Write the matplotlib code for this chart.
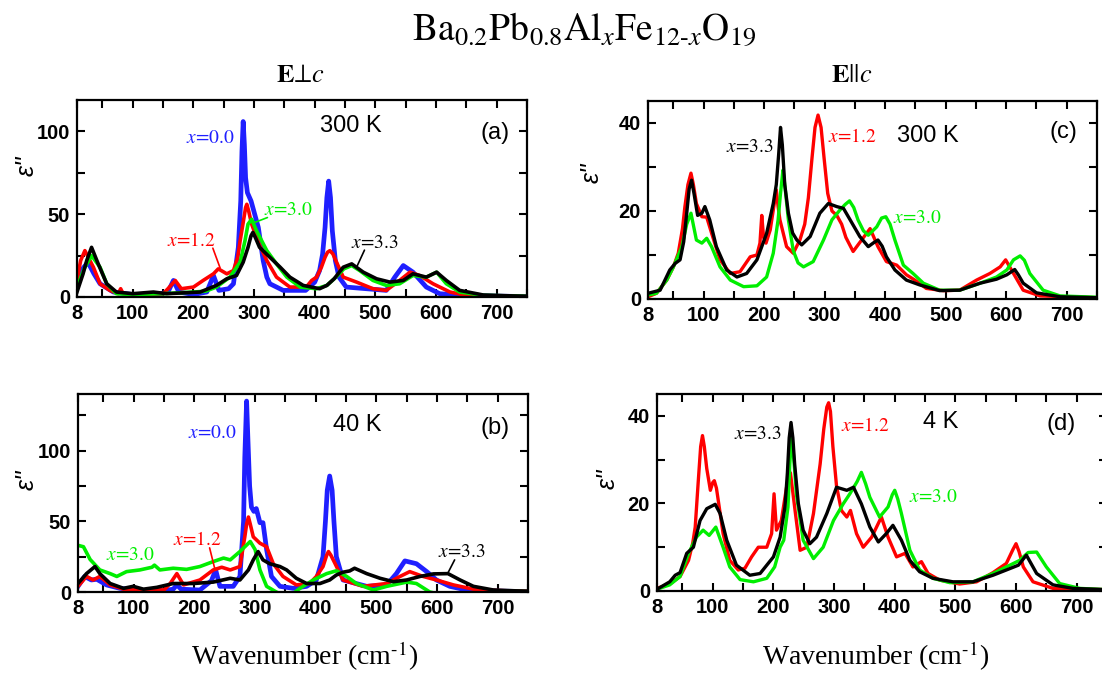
import matplotlib
matplotlib.use("Agg")
import matplotlib.pyplot as plt
import numpy as np
from matplotlib.ticker import MultipleLocator, FixedLocator

# eps'' spectra, (wavenumber cm^-1, eps'')
# (a) E perp c, 300 K
a_x00 = [(8, 6), (15, 16), (26, 21), (36, 14), (46, 8), (68, 3), (100, 1.5), (140, 1.5), (158, 3), (167, 10),
         (176, 3), (200, 1.5), (222, 3), (233, 13), (242, 4), (258, 5), (266, 8), (274, 30), (278, 58), (280, 88),
         (282, 106), (284, 92), (286, 72), (289, 63), (295, 58), (301, 50), (307, 42), (315, 22), (321, 12), (326, 8),
         (348, 4), (385, 4), (400, 9), (408, 16), (413, 26), (417, 42), (420, 60), (423, 70), (426, 60), (429, 40),
         (434, 22), (440, 12), (452, 6), (485, 5), (518, 4), (532, 12), (546, 19), (562, 15), (584, 6), (606, 2),
         (640, 1), (700, 0.5), (750, 0.3)]
a_x12 = [(8, 10), (14, 22), (21, 28), (35, 18), (46, 8), (62, 4), (76, 2), (80, 5), (84, 2), (110, 1.5), (150, 2),
         (158, 5), (170, 10), (180, 5), (200, 6), (216, 10), (233, 14), (241, 17), (255, 14), (266, 16), (273, 24),
         (277, 34), (282, 45), (286, 54), (288, 56), (291, 52), (296, 44), (307, 33), (321, 22), (337, 12), (359, 6),
         (386, 6), (395, 10), (403, 12), (411, 18), (417, 24), (421, 27), (425, 28), (430, 26), (436, 21), (447, 12),
         (469, 9), (496, 5), (518, 4), (540, 10), (557, 15), (573, 13), (595, 8), (623, 3), (650, 1), (700, 0.5),
         (750, 0.3)]
a_x30 = [(8, 6), (21, 18), (32, 25), (46, 18), (57, 8), (73, 2), (100, 1.5), (150, 2), (200, 3), (220, 3.5), (238, 6),
         (260, 12), (277, 21), (285, 34), (290, 44), (296, 47), (304, 40), (321, 28), (337, 20), (354, 12), (376, 6),
         (403, 5), (420, 7), (435, 12), (448, 17), (461, 19), (474, 16), (496, 10), (518, 7), (540, 8), (562, 13),
         (584, 12), (601, 15), (617, 8), (639, 3), (678, 1), (750, 0.4)]
a_x33 = [(8, 3), (18, 14), (24, 22), (32, 30), (43, 20), (57, 8), (73, 3), (100, 2), (134, 3), (156, 2), (211, 3),
         (238, 7), (255, 11), (271, 13), (282, 21), (290, 30), (295, 37), (298, 39), (302, 36), (309, 30), (326, 24),
         (343, 18), (359, 12), (381, 7), (408, 5), (420, 7), (432, 11), (447, 18), (461, 20), (480, 15), (502, 11),
         (524, 9), (546, 10), (562, 14), (584, 12), (601, 15), (617, 10), (639, 4), (678, 1.2), (750, 0.4)]

# (b) E perp c, 40 K
b_x00 = [(8, 4), (19, 11), (30, 8.5), (39, 9), (55, 5), (77, 2.6), (110, 1.2), (150, 1), (165, 2), (171, 5), (178, 2),
         (209, 1.4), (228, 8), (235, 15.6), (242, 4), (264, 4), (275, 11), (281, 50), (283, 95), (286, 135),
         (288, 110), (291, 75), (294, 60), (298, 57), (302, 59), (308, 49), (313, 49), (319, 30), (327, 11), (341, 4),
         (363, 2.6), (385, 4), (401, 8.5), (412, 25), (416, 50), (419, 72), (423, 82), (427, 72), (430, 50), (434, 25),
         (445, 8.5), (484, 4), (517, 5), (533, 13), (547, 22), (566, 20), (583, 14.4), (599, 8.5), (621, 4),
         (649, 1.4), (700, 0.6), (750, 0.3)]
b_x12 = [(8, 4), (22, 11), (33, 8.5), (44, 11), (61, 5), (83, 2), (120, 1.5), (150, 1.5), (160, 6), (171, 13),
         (182, 5), (209, 8.5), (231, 15.6), (245, 17.5), (259, 15.6), (275, 18), (283, 39), (286, 48), (289, 53),
         (292, 48), (297, 39), (308, 34.5), (319, 32), (330, 20), (346, 11), (368, 5), (390, 6), (401, 11), (412, 18),
         (418, 26), (421, 28.6), (425, 26), (432, 20), (445, 8.5), (478, 4), (517, 6), (539, 11), (555, 14.4),
         (577, 11), (599, 8.5), (627, 5), (660, 2), (700, 1), (750, 0.5)]
b_x30 = [(8, 33), (17, 32), (28, 23), (44, 15.6), (61, 13), (72, 11), (88, 14.4), (110, 15.6), (130, 17.5), (134, 19),
         (143, 15.6), (165, 16.8), (187, 16), (209, 18), (231, 21.5), (248, 24), (259, 22.7), (275, 28.6), (292, 35.7),
         (300, 30), (308, 15.6), (319, 4), (335, 0), (350, -3), (363, -1), (374, 2.6), (396, 8.5), (418, 13), (434, 15),
         (451, 11), (467, 6), (495, 1.4), (517, 4), (550, 7), (566, 6), (588, 0), (620, -3), (680, -1), (720, 0.5),
         (750, 0.3)]
b_x33 = [(8, 6), (22, 13), (36, 18), (44, 13), (61, 6), (83, 2.6), (99, 4), (116, 2), (138, 3.3), (165, 6), (198, 6),
         (231, 7), (259, 9.7), (275, 8.5), (289, 15.6), (297, 22.7), (305, 28.6), (313, 22.7), (324, 20), (341, 18),
         (352, 15.6), (368, 9.7), (385, 6), (407, 6), (423, 8.5), (434, 12), (445, 14), (456, 14.9), (464, 16.8),
         (484, 13), (506, 9.7), (528, 7.3), (550, 8.5), (572, 11), (594, 12.8), (618, 13), (638, 8.5), (660, 4),
         (693, 1.4), (750, 0.5)]

# (c) E || c, 300 K
c_x12 = [(8, 0.5), (22, 1.3), (39, 4.3), (50, 7.3), (58, 10.4), (65, 16), (69, 21), (74, 26), (79, 28.6), (83, 26),
         (88, 21.7), (97, 18.7), (105, 18.6), (113, 15), (127, 8.9), (144, 5.8), (160, 6.2), (177, 9.6), (188, 10),
         (193, 12.7), (196, 19), (199, 14), (203, 12.7), (210, 15.7), (217, 22), (220, 24.8), (223, 21), (226, 18),
         (237, 11.9), (248, 10.4), (259, 13.4), (267, 17), (273, 23), (279, 32), (284, 39), (289, 41.8), (294, 39),
         (299, 32), (305, 24), (312, 20), (320, 19), (328, 17), (335, 14), (347, 10.8), (361, 13.4), (375, 16),
         (388, 11.9), (402, 8.5), (419, 7.7), (435, 5.5), (449, 4.3), (468, 2.4), (496, 1.9), (523, 2), (551, 4.3),
         (573, 5.8), (590, 7.3), (599, 8.9), (612, 5.8), (628, 2), (656, 0.7), (750, 0.3)]
c_x30 = [(8, 0.9), (22, 1.3), (39, 4.3), (50, 7.3), (64, 11.9), (72, 17), (79, 19.5), (88, 13.4), (97, 12.7),
         (105, 13.8), (113, 11.9), (127, 7.3), (144, 4.3), (166, 2.8), (188, 3), (204, 5), (215, 10.4), (223, 18),
         (227, 24), (231, 29.3), (234, 26), (240, 18), (248, 11), (256, 8.2), (265, 7.3), (281, 8.5), (298, 13.4),
         (312, 18), (325, 20.2), (334, 21.5), (341, 22.3), (348, 20.8), (355, 18), (364, 15.5), (372, 14.5),
         (386, 16.4), (394, 18.4), (401, 18.7), (408, 17), (416, 13.4), (430, 7.7), (446, 5.8), (463, 3.6), (490, 2),
         (523, 2), (557, 3.6), (584, 5), (601, 6.6), (612, 8.9), (623, 9.8), (630, 8.8), (639, 5.8), (661, 2),
         (689, 0.7), (750, 0.4)]
c_x33 = [(8, 1.3), (28, 2), (44, 6.6), (53, 8.1), (61, 8.9), (67, 13), (72, 19.5), (76, 25), (80, 27), (84, 24),
         (90, 19), (97, 19.5), (102, 21), (110, 18), (121, 11.9), (138, 6.6), (155, 5), (171, 5.8), (188, 8.9),
         (204, 14.9), (215, 21.7), (220, 26), (224, 33), (227, 39), (230, 35), (234, 26), (240, 19.5), (247, 15),
         (254, 13.4), (262, 12.3), (276, 14.2), (292, 19.5), (306, 21.7), (320, 21), (331, 20.6), (342, 18),
         (358, 14.2), (372, 11.9), (381, 12.8), (388, 13.4), (395, 12), (402, 9.6), (416, 6.6), (435, 4.3),
         (457, 3.2), (490, 1.9), (523, 2), (557, 3.6), (584, 4.5), (601, 5.5), (614, 6.7), (620, 5.5), (628, 3.6),
         (650, 1.4), (689, 0.5), (750, 0.3)]

# (d) E || c, 4 K
d_x12 = [(8, 0.6), (29, 1.6), (46, 3.3), (60, 7), (67, 11), (71, 14.6), (76, 25), (80, 33), (83, 35.5), (86, 33),
         (90, 28), (96, 23), (100, 24.8), (102.5, 25.2), (106, 23.5), (109, 20.7), (117, 13.1), (128, 7), (142, 4.8),
         (153, 5.2), (164, 7.8), (175, 10), (189, 10), (197, 13.1), (201, 22.2), (205, 13.9), (213, 16.1), (222, 24),
         (228, 27), (236, 18), (244, 9.3), (255, 10), (266, 17.7), (277, 29), (283, 37), (288, 42), (291, 43),
         (294, 41), (298, 33), (304, 24), (312, 18.4), (321, 16.9), (327, 18.4), (337, 13.1), (348, 10), (362, 12.3),
         (378, 16.9), (389, 12.3), (403, 7.8), (417, 8.6), (430, 5.5), (444, 6.7), (455, 4), (474, 2.5), (507, 1.6),
         (535, 2.1), (562, 4.2), (584, 6.3), (595, 9.5), (600, 10.8), (605, 9), (612, 5.5), (628, 2.1), (661, 0.6),
         (750, 0.3)]
d_x30 = [(8, 0.4), (29, 1.4), (46, 3.3), (60, 8.6), (73, 12.3), (84, 13.9), (94, 12.7), (105, 14.6), (117, 10),
         (128, 5.5), (145, 2.6), (167, 2.1), (189, 2.9), (202, 5.5), (211, 10), (217, 11.6), (224, 19.2), (227, 29),
         (230, 35.8), (233, 31), (238, 22), (249, 11.6), (266, 7.4), (282, 10), (299, 16.1), (315, 19.9), (326, 22.2),
         (338, 25), (345, 27.1), (352, 24.5), (359, 21.4), (375, 16.9), (389, 19.2), (396, 22), (400, 23), (405, 21),
         (411, 17.7), (425, 9.3), (441, 4.8), (463, 2.9), (491, 1.9), (529, 2.1), (562, 4), (584, 5.5), (606, 7),
         (620, 8.8), (634, 8.9), (650, 5.5), (672, 1.7), (705, 0.6), (750, 0.3)]
d_x33 = [(8, 0.4), (29, 2.1), (38, 3.6), (46, 4.2), (57, 8.6), (68, 10), (79, 16.1), (90, 18.8), (104, 19.8),
         (112, 17.7), (123, 11.6), (139, 5.9), (161, 3.6), (178, 4), (200, 7.8), (211, 12.3), (219, 19.2), (223, 27),
         (226, 35), (229, 38.5), (232, 35), (235, 29), (241, 20), (249, 13.9), (260, 10.8), (271, 12.3), (288, 17.7),
         (304, 23.7), (321, 23), (332, 23.7), (345, 19.9), (359, 14.6), (373, 11.2), (386, 13.1), (397, 15),
         (411, 11.6), (425, 7), (441, 4.4), (463, 2.9), (496, 2.1), (529, 2.1), (562, 3.6), (584, 4.8), (604, 5.9),
         (617, 8.2), (634, 4), (661, 1.4), (694, 0.6), (750, 0.3)]

x_ticks = [8, 100, 200, 300, 400, 500, 600, 700]
colors = {"0.0": "#1f1fff", "1.2": "#ff0000", "3.0": "#00ee00", "3.3": "#000000"}

plt.rcParams["mathtext.fontset"] = "stix"
plt.rcParams["font.family"] = ["Liberation Sans", "DejaVu Sans"]

W, H = 1102, 684
fig = plt.figure(figsize=(W / 100, H / 100), dpi=100)


def box(l, t, r, b):
    return [l / W, 1 - b / H, (r - l) / W, (b - t) / H]


def style(ax, ymax, ystep):
    ax.set_xlim(8, 750)
    ax.set_ylim(0, ymax)
    ax.xaxis.set_major_locator(FixedLocator(x_ticks))
    ax.xaxis.set_minor_locator(FixedLocator(np.arange(50, 751, 100)))
    ax.yaxis.set_major_locator(MultipleLocator(ystep))
    ax.yaxis.set_minor_locator(MultipleLocator(ystep / 2))
    ax.tick_params(which="both", direction="in", top=True, right=True, width=1.5)
    ax.tick_params(which="major", length=6, labelsize=14.5, pad=5)
    ax.tick_params(which="minor", length=6)
    for lab in ax.get_xticklabels() + ax.get_yticklabels():
        lab.set_fontweight("bold")
    for s in ax.spines.values():
        s.set_linewidth(1.6)


def curve(ax, pts, key, lw=2.4):
    wn, eps = np.array(pts).T
    ax.plot(wn, eps, color=colors[key], lw=lw, solid_joinstyle="round")


def label(ax, x, y, key, size=14):
    ax.text(x, y, "$x$=" + key, color=colors[key], fontsize=size, family="STIXGeneral",
            ha="center", va="center")


def leader(ax, start, end, key):
    ax.annotate("", xy=end, xytext=start,
                arrowprops=dict(arrowstyle="-", color=colors[key], lw=1.2, shrinkA=0, shrinkB=0))


ax_a = fig.add_axes(box(77, 100, 527, 297))
ax_b = fig.add_axes(box(78, 394, 528, 592))
ax_c = fig.add_axes(box(648, 101, 1097, 299))
ax_d = fig.add_axes(box(657, 394, 1107, 591))

# E perp c panels
for ax, sets in ((ax_a, (a_x00, a_x12, a_x30, a_x33)), (ax_b, (b_x00, b_x12, b_x30, b_x33))):
    curve(ax, sets[0], "0.0", lw=3.4)
    curve(ax, sets[1], "1.2", lw=2.6)
    curve(ax, sets[2], "3.0", lw=2.6)
    curve(ax, sets[3], "3.3", lw=2.6)

# E || c panels
for ax, sets in ((ax_c, (c_x12, c_x30, c_x33)), (ax_d, (d_x12, d_x30, d_x33))):
    curve(ax, sets[0], "1.2")
    curve(ax, sets[1], "3.0")
    curve(ax, sets[2], "3.3")

style(ax_a, 119, 50)
style(ax_b, 140, 50)
style(ax_c, 45, 20)
style(ax_d, 45, 20)

txt = dict(fontsize=17, ha="center", va="center")
ax_a.text(459, 103, "300 K", **txt)
ax_a.text(697, 99, "(a)", **txt)
ax_b.text(469, 118, "40 K", **txt)
ax_b.text(695, 116, "(b)", **txt)
ax_c.text(471, 37, "300 K", **txt)
ax_c.text(694, 38, "(c)", **txt)
ax_d.text(476, 38.6, "4 K", **txt)
ax_d.text(675, 38.2, "(d)", **txt)

label(ax_a, 227, 96, "0.0")
label(ax_a, 197, 34, "1.2")
label(ax_a, 356, 52, "3.0")
label(ax_a, 499, 32.5, "3.3")
leader(ax_a, (232, 29.5), (244, 17.5), "1.2")
leader(ax_a, (322, 48), (298, 44.6), "3.0")
leader(ax_a, (482, 28.3), (469, 18), "3.3")

label(ax_b, 230, 112, "0.0")
label(ax_b, 204, 37, "1.2")
label(ax_b, 95, 26.2, "3.0")
label(ax_b, 641, 27.7, "3.3")
leader(ax_b, (225, 31.2), (234, 15.6), "1.2")
leader(ax_b, (629, 22.7), (618, 13.5), "3.3")

label(ax_c, 177, 34.5, "3.3")
label(ax_c, 345, 36.8, "1.2")
label(ax_c, 453, 18.2, "3.0")

label(ax_d, 174, 35.7, "3.3")
label(ax_d, 351, 37.7, "1.2")
label(ax_d, 464, 21.4, "3.0")

# y labels, column headings, x labels, title
for x, y in ((27, 166), (27, 480), (592, 173), (608, 479)):
    fig.text(x / W, 1 - y / H, "\u03b5''", fontsize=18, style="italic", rotation=90,
             ha="center", va="center")

fig.text(300 / W, 1 - 76 / H, "$\\mathbf{E}$\u22a5$c$", fontsize=19, family="STIXGeneral",
         ha="center", va="center")
fig.text(852 / W, 1 - 76 / H, "$\\mathbf{E}$||$c$", fontsize=19, family="STIXGeneral",
         ha="center", va="center")

for x in (305, 876):
    fig.text(x / W, 1 - 656 / H, r"Wavenumber (cm$^{\text{-}1}$)", fontsize=20,
             family="Liberation Serif", ha="center", va="center")

fig.text(584 / W, 1 - 30 / H,
         r"$\mathrm{Ba}_{0.2}\mathrm{Pb}_{0.8}\mathrm{Al}_{\mathit{x}}\mathrm{Fe}_{12\text{-}\mathit{x}}\mathrm{O}_{19}$",
         fontsize=27, ha="center", va="center")

fig.savefig("out.png", dpi=100)
